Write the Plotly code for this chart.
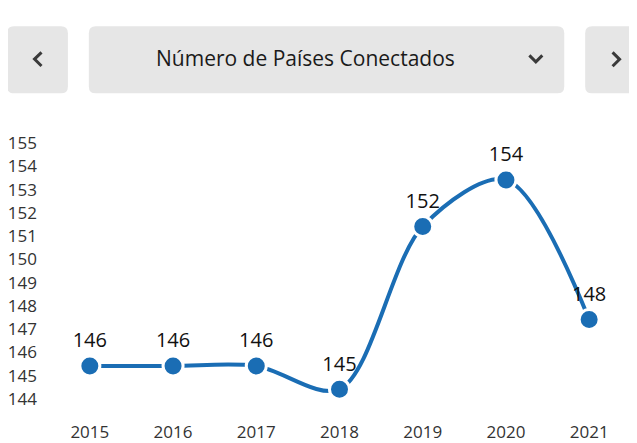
import plotly.graph_objects as go

# ---- data ----
years = [2015, 2016, 2017, 2018, 2019, 2020, 2021]
connected = [146, 146, 146, 145, 152, 154, 148]
y_tick_values = list(range(144, 156))
y_tick_labels = [str(v) for v in y_tick_values]
x_tick_labels = [str(y) for y in years]
title_text = "Número de Países Conectados"

# page body has an 8px margin; the figure is sized to fill the rest of the window
OFF = 8
W, H = 637 - OFF, 443 - OFF
ML, MR, MT, MB = 40 - OFF, 0, 120 - OFF, 23
PW, PH = W - ML - MR, H - MT - MB
FONT = "Open Sans, Noto Sans, sans-serif"
BLUE = "#1a6db4"


def X(px):  # reference window pixel -> paper
    return (px - OFF - ML) / PW


def Y(py):
    return (H - MB - (py - OFF)) / PH


def rrect(x0, y0, x1, y1, r):
    rx, ry = r / PW, r / PH
    a, b, c, d = X(x0), X(x1), Y(y0), Y(y1)  # c top, d bottom
    return (f"M {a+rx},{c} L {b-rx},{c} Q {b},{c} {b},{c-ry} "
            f"L {b},{d+ry} Q {b},{d} {b-rx},{d} L {a+rx},{d} "
            f"Q {a},{d} {a},{d+ry} L {a},{c-ry} Q {a},{c} {a+rx},{c} Z")


def poly(pts):
    return "M " + " L ".join(f"{X(x)},{Y(y)}" for x, y in pts)


fig = go.Figure()
fig.add_trace(go.Scatter(
    x=years, y=connected,
    mode="lines+markers+text",
    line=dict(color=BLUE, width=4, shape="spline", smoothing=0.9),
    marker=dict(color=BLUE, size=20, line=dict(color="white", width=3)),
    text=[str(v) for v in connected],
    textposition="top center",
    textfont=dict(family=FONT, size=20, color="#111111"),
    cliponaxis=False,
    hoverinfo="skip",
))

shapes = []
for (x0, y0, x1, y1) in [(5, 25, 66, 93), (87, 25, 564, 93), (585, 25, 660, 93)]:
    shapes.append(dict(type="path", xref="paper", yref="paper",
                       path=rrect(x0, y0, x1, y1, 7),
                       fillcolor="#e6e6e6", line=dict(width=0), layer="below"))
for pts in [[(39.5, 51.5), (32.5, 58.3), (39.5, 65.3)],
            [(529, 54.5), (535.5, 61), (542, 54.5)],
            [(612.5, 51.5), (619.5, 58.5), (612.5, 65.5)]]:
    shapes.append(dict(type="path", xref="paper", yref="paper", path=poly(pts),
                       line=dict(color="#3a3a3a", width=3),
                       fillcolor="rgba(0,0,0,0)"))

# axis ranges chosen so the points land where the reference draws them
px_per_unit = 23.575
y_ref_val, y_ref_px = 146, 369.3 - OFF
y_bottom = y_ref_val - (H - MB - y_ref_px) / px_per_unit
y_top = y_ref_val + (y_ref_px - MT) / px_per_unit
x_left = years[0] - (88 - OFF - ML) / 83.5
x_right = years[-1] + (W - MR - (589 - OFF)) / 83.5

fig.update_layout(
    width=W, height=H,
    margin=dict(l=ML, r=MR, t=MT, b=MB, pad=0),
    paper_bgcolor="white", plot_bgcolor="white",
    showlegend=False,
    shapes=shapes,
    annotations=[dict(x=X(304), y=Y(57), xref="paper", yref="paper",
                      text=title_text, showarrow=False,
                      font=dict(family=FONT, size=21, color="#1a1a1a"),
                      xanchor="center", yanchor="middle")],
    xaxis=dict(range=[x_left, x_right], tickvals=years, ticktext=x_tick_labels,
               showgrid=False, zeroline=False, showline=False, ticks="",
               tickfont=dict(family=FONT, size=17, color="#333333"),
               ticklabelstandoff=4, fixedrange=True),
    yaxis=dict(range=[y_bottom, y_top],
               tickvals=[v + 0.58 for v in y_tick_values], ticktext=y_tick_labels,
               showgrid=False, zeroline=False, showline=False, ticks="",
               tickfont=dict(family=FONT, size=17, color="#333333"),
               ticklabelstandoff=4, fixedrange=True),
)

fig.write_html("out.html", config={"displayModeBar": False})
